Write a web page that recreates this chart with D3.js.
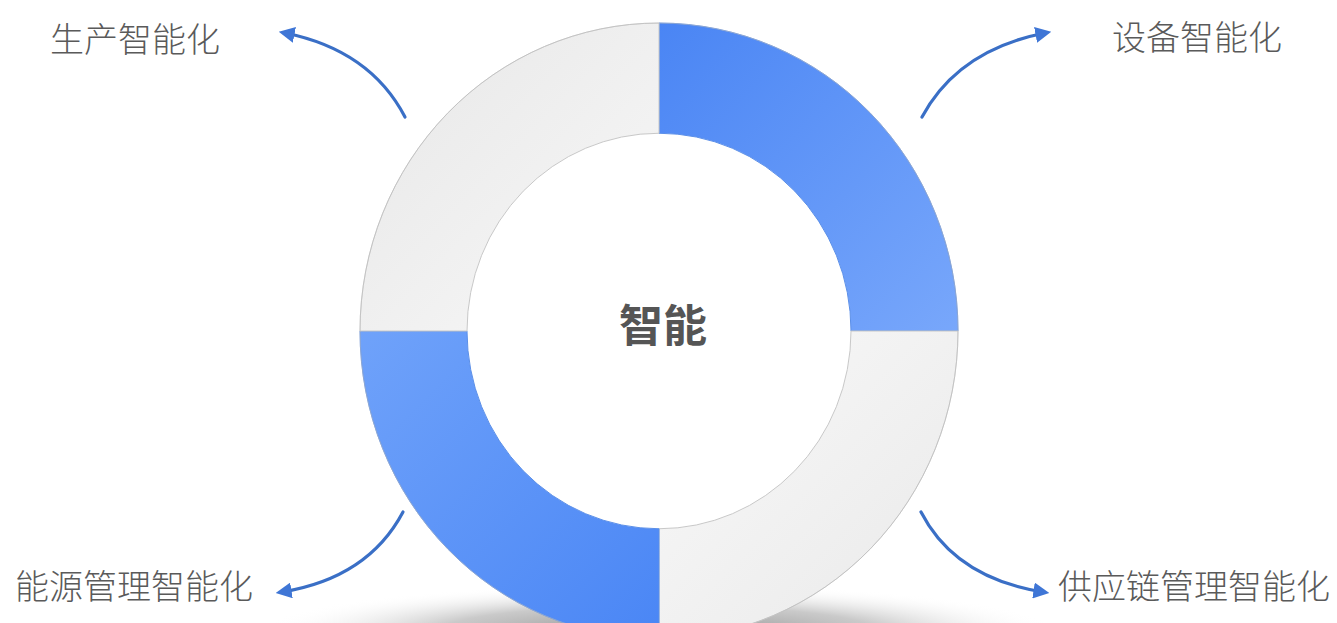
<!DOCTYPE html>
<html><head><meta charset="utf-8">
<script src="https://cdn.jsdelivr.net/npm/d3@7"></script>
<style>html,body{margin:0;padding:0;background:#fff;}svg{display:block;}</style>
</head><body>
<svg id="c" width="1337" height="623"></svg>
<script>
// Data
const categories = ["设备智能化", "供应链管理智能化", "能源管理智能化", "生产智能化"];
const values = [1, 1, 1, 1];
const highlight = [true, false, true, false];
const centerLabel = "智能";

const W = 1337, H = 623;
const cx = 659, cy = 331, rOuter = 299, rInner = 192, yScale = 1.03;
const svg = d3.select("#c");
const defs = svg.append("defs");

// gradients
const blueGrads = [
  {id:"gb0", x1:"0%", y1:"0%", x2:"100%", y2:"100%", a:"#4a85f4", b:"#78a7fb"},
  {id:"gb2", x1:"0%", y1:"0%", x2:"100%", y2:"100%", a:"#6fa2fa", b:"#4a86f5"}
];
blueGrads.forEach(g => {
  const lg = defs.append("linearGradient").attr("id", g.id)
    .attr("x1", g.x1).attr("y1", g.y1).attr("x2", g.x2).attr("y2", g.y2);
  lg.append("stop").attr("offset", "0%").attr("stop-color", g.a);
  lg.append("stop").attr("offset", "100%").attr("stop-color", g.b);
});
const grayGrads = [
  {id:"gg1", a:"#f9f9f9", b:"#e9e9e9"},
  {id:"gg3", a:"#e7e7e7", b:"#f8f8f8"}
];
grayGrads.forEach(g => {
  const lg = defs.append("linearGradient").attr("id", g.id)
    .attr("x1", "0%").attr("y1", "0%").attr("x2", "100%").attr("y2", "100%");
  lg.append("stop").attr("offset", "0%").attr("stop-color", g.a);
  lg.append("stop").attr("offset", "100%").attr("stop-color", g.b);
});
const fills = ["url(#gb0)", "url(#gg1)", "url(#gb2)", "url(#gg3)"];

// shadow under the ring
const sh = defs.append("radialGradient").attr("id", "shadow")
  .attr("cx", "50%").attr("cy", "50%").attr("r", "50%");
sh.append("stop").attr("offset", "0%").attr("stop-color", "#8a8a8a").attr("stop-opacity", 1);
sh.append("stop").attr("offset", "55%").attr("stop-color", "#b8b8b8").attr("stop-opacity", 0.75);
sh.append("stop").attr("offset", "100%").attr("stop-color", "#ffffff").attr("stop-opacity", 0);
svg.append("ellipse").attr("cx", cx).attr("cy", 632)
  .attr("rx", 400).attr("ry", 48).attr("fill", "url(#shadow)");

// arrow marker
defs.append("marker").attr("id", "arr").attr("viewBox", "0 0 10 10")
  .attr("refX", 6).attr("refY", 5).attr("markerWidth", 5).attr("markerHeight", 5)
  .attr("orient", "auto-start-reverse")
  .append("path").attr("d", "M0,0 L10,5 L0,10 Z").attr("fill", "#3f76d6");

// donut
const pie = d3.pie().sort(null).value(d => d)(values);
const arc = d3.arc().innerRadius(rInner).outerRadius(rOuter);
const g = svg.append("g").attr("transform", `translate(${cx},${cy}) scale(1,${yScale})`);
g.selectAll("path.seg").data(pie).join("path").attr("class", "seg")
  .attr("d", arc)
  .attr("fill", (d, i) => fills[i])
  .attr("stroke", (d, i) => highlight[i] ? "#5b8fe8" : "#c8c8c8")
  .attr("stroke-width", 1)
  .attr("vector-effect", "non-scaling-stroke");
g.append("circle").attr("r", rOuter).attr("fill", "none").attr("stroke", "#bdbdbd")
  .attr("stroke-width", 1).attr("stroke-opacity", 0.5).attr("vector-effect", "non-scaling-stroke");

// center label
svg.append("text").attr("x", cx + 4).attr("y", cy - 8)
  .attr("text-anchor", "middle").attr("dominant-baseline", "central")
  .attr("font-family", "'Noto Sans CJK SC', sans-serif").attr("font-weight", 700)
  .attr("font-size", 44).attr("fill", "#555").text(centerLabel);

// arrows & labels
const arrowDefs = [
  {from:[922,117], ctrl:[958,50], to:[1045,33]},
  {from:[921,512], ctrl:[955,578], to:[1043,592]},
  {from:[403,512], ctrl:[368,578], to:[282,592]},
  {from:[405,117], ctrl:[370,50], to:[285,33]}
];
const labelPos = [
  {x:1112, y:35, anchor:"start"},
  {x:1058, y:584, anchor:"start"},
  {x:15, y:584, anchor:"start"},
  {x:50, y:37, anchor:"start"}
];
pie.forEach((p, i) => {
  const a = arrowDefs[i];
  const path = d3.path();
  path.moveTo(a.from[0], a.from[1]);
  path.quadraticCurveTo(a.ctrl[0], a.ctrl[1], a.to[0], a.to[1]);
  svg.append("path").attr("d", path.toString()).attr("fill", "none")
    .attr("stroke", "#3a6fc6").attr("stroke-width", 3.2)
    .attr("stroke-linecap", "round").attr("marker-end", "url(#arr)");
  const lp = labelPos[i];
  svg.append("text").attr("x", lp.x).attr("y", lp.y)
    .attr("dominant-baseline", "central").attr("text-anchor", lp.anchor)
    .attr("font-family", "'Noto Sans CJK SC', sans-serif").attr("font-weight", 300)
    .attr("font-size", 34).attr("fill", "#5a5a5a").text(categories[i]);
});
</script>
</body></html>
